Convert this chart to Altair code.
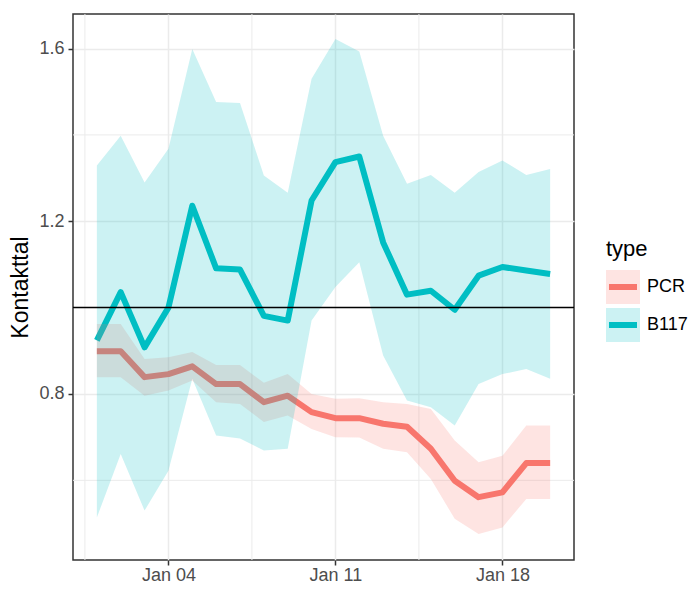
import altair as alt
import pandas as pd

# ---------------- data ----------------
dates = [
    "2021-01-01T00:00:00", "2021-01-02T00:00:00", "2021-01-03T00:00:00", "2021-01-04T00:00:00",
    "2021-01-05T00:00:00", "2021-01-06T00:00:00", "2021-01-07T00:00:00", "2021-01-08T00:00:00",
    "2021-01-09T00:00:00", "2021-01-10T00:00:00", "2021-01-11T00:00:00", "2021-01-12T00:00:00",
    "2021-01-13T00:00:00", "2021-01-14T00:00:00", "2021-01-15T00:00:00", "2021-01-16T00:00:00",
    "2021-01-17T00:00:00", "2021-01-18T00:00:00", "2021-01-19T00:00:00", "2021-01-20T00:00:00",
]
types = ["PCR", "B117"]
colors = ["#F8766D", "#00BFC4"]

pcr_mean = [0.899, 0.899, 0.839, 0.846, 0.864, 0.823, 0.823, 0.781, 0.796, 0.758,
            0.744, 0.744, 0.731, 0.724, 0.673, 0.599, 0.561, 0.572, 0.640, 0.640]
pcr_lo = [0.839, 0.839, 0.796, 0.808, 0.831, 0.781, 0.777, 0.735, 0.750, 0.719,
          0.700, 0.699, 0.673, 0.665, 0.603, 0.511, 0.476, 0.491, 0.557, 0.557]
pcr_hi = [0.962, 0.962, 0.881, 0.885, 0.897, 0.867, 0.867, 0.826, 0.846, 0.800,
          0.789, 0.790, 0.781, 0.777, 0.765, 0.692, 0.642, 0.657, 0.727, 0.727]

b117_mean = [0.924, 1.036, 0.908, 1.000, 1.236, 1.091, 1.088, 0.981, 0.970, 1.248,
             1.337, 1.350, 1.151, 1.030, 1.039, 0.995, 1.074, 1.094, 1.086, 1.078]
b117_lo = [0.514, 0.661, 0.530, 0.622, 0.835, 0.704, 0.697, 0.669, 0.673, 0.970,
           1.048, 1.105, 0.889, 0.785, 0.769, 0.727, 0.823, 0.846, 0.858, 0.835]
b117_hi = [1.329, 1.398, 1.290, 1.368, 1.599, 1.476, 1.474, 1.306, 1.266, 1.530,
           1.622, 1.593, 1.398, 1.287, 1.307, 1.266, 1.314, 1.341, 1.307, 1.321]

ref_value = [1.0]
y_ticks = [0.8, 1.2, 1.6]
y_minor = [0.6, 1.0, 1.4]
x_minor = ["2020-12-31T12:00:00", "2021-01-07T12:00:00", "2021-01-14T12:00:00"]
legend_rows = ["type", "PCR", "B117"]
legend_kind = ["title", "key", "key"]
legend_index = [0, 1, 2]

# ---------------- tables ----------------
df = pd.concat([
    pd.DataFrame({"date": dates, "type": "PCR", "mean": pcr_mean, "lo": pcr_lo, "hi": pcr_hi}),
    pd.DataFrame({"date": dates, "type": "B117", "mean": b117_mean, "lo": b117_lo, "hi": b117_hi}),
], ignore_index=True)

FONT = "Liberation Sans"
GRID = "#EBEBEB"

x_scale = alt.Scale(domain=[alt.DateTime(year=2020, month=12, date=31),
                            alt.DateTime(year=2021, month=1, date=21)], nice=False)
y_scale = alt.Scale(domain=[0.4155, 1.680], nice=False, zero=False)
c_scale = alt.Scale(domain=types, range=colors)

x_axis = alt.Axis(
    values=[alt.DateTime(year=2021, month=1, date=d) for d in (4, 11, 18)],
    format="%b %d", title=None, domain=False,
    labelFont=FONT, labelFontSize=18, labelColor="#4D4D4D", labelPadding=1,
    tickColor="#333333", tickSize=5, tickWidth=1.5,
    grid=True, gridColor=GRID, gridWidth=1.5,
)
y_axis = alt.Axis(
    values=y_ticks, format=".1f", title="Kontakttal", domain=False,
    labelFont=FONT, labelFontSize=18, labelColor="#4D4D4D", labelPadding=4,
    tickColor="#333333", tickSize=5, tickWidth=1.5,
    grid=True, gridColor=GRID, gridWidth=1.5,
    titleFont=FONT, titleFontSize=23, titleFontWeight="normal", titleColor="black",
    titlePadding=6,
)

X = lambda f: alt.X(f, type="temporal", scale=x_scale, axis=x_axis)
Y = lambda f: alt.Y(f, type="quantitative", scale=y_scale, axis=y_axis)

minor_x = alt.Chart(pd.DataFrame({"date": x_minor})).mark_rule(
    color=GRID, strokeWidth=1).encode(x=X("date"))
minor_y = alt.Chart(pd.DataFrame({"v": y_minor})).mark_rule(
    color=GRID, strokeWidth=1).encode(y=Y("v"))

lines = alt.Chart(df).mark_line(strokeWidth=6, strokeJoin="round", strokeCap="butt").encode(
    x=X("date"), y=Y("mean"),
    color=alt.Color("type:N", scale=c_scale, legend=None),
)
ribbons = alt.Chart(df).mark_area(opacity=0.2).encode(
    x=X("date"), y=Y("lo"), y2="hi:Q",
    color=alt.Color("type:N", scale=c_scale, legend=None),
)
hline = alt.Chart(pd.DataFrame({"v": ref_value})).mark_rule(
    color="black", strokeWidth=1.5).encode(y=Y("v"))

main = alt.layer(minor_x, minor_y, lines, ribbons, hline).properties(
    width=501, height=546,
    view=alt.ViewBackground(stroke="#333333", strokeWidth=1.5, fill="white"),
)

# ---------------- legend panel ----------------
leg_df = pd.DataFrame({"row": legend_rows, "kind": legend_kind, "idx": legend_index})
lbase = alt.Chart(leg_df)
leg_y = alt.Y("idx:Q", scale=alt.Scale(domain=[-6.184, 8.184], reverse=True, nice=False, zero=False),
              axis=None)
leg_c = alt.Color("row:N", scale=c_scale, legend=None)
keys = lbase.transform_filter("datum.kind == 'key'")

leg_sq = keys.mark_square(size=34 * 34, opacity=0.2).encode(x=alt.value(17), y=leg_y, color=leg_c)
leg_line = keys.mark_rule(strokeWidth=6).encode(x=alt.value(3), x2=alt.value(31), y=leg_y, color=leg_c)
leg_txt = keys.mark_text(align="left", baseline="middle", font=FONT, fontSize=18,
                         color="black").encode(x=alt.value(41), y=leg_y, text="row:N")
leg_title = lbase.transform_filter("datum.kind == 'title'").mark_text(
    align="left", baseline="middle", font=FONT, fontSize=22, color="black").encode(
    x=alt.value(0), y=leg_y, text="row:N")

legend = alt.layer(leg_sq, leg_line, leg_txt, leg_title).properties(
    width=80, height=546,
    view=alt.ViewBackground(stroke=None, fill="white"),
)

chart = alt.hconcat(main, legend, spacing=30).properties(
    padding={"left": 1, "top": 4, "right": 0, "bottom": 0},
    background="white",
)

chart.save("out.html", embed_options={"renderer": "svg", "actions": False})
